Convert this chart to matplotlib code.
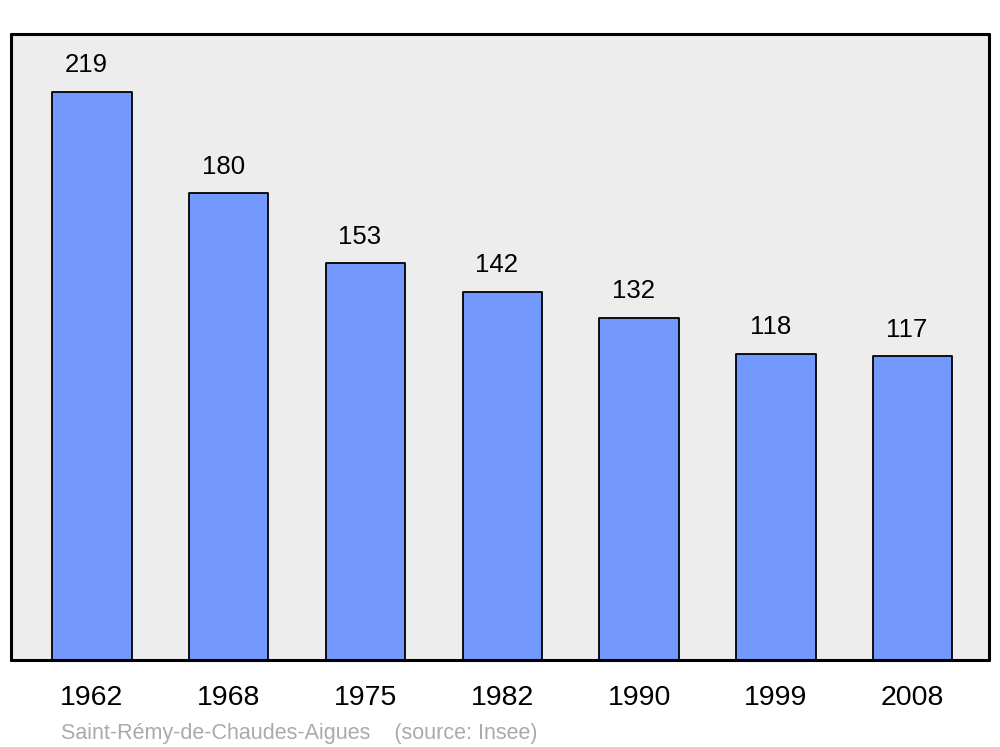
import matplotlib.pyplot as plt

plt.rcParams['font.family'] = ['Liberation Sans', 'DejaVu Sans']

# Data
years = ["1962", "1968", "1975", "1982", "1990", "1999", "2008"]
population = [219, 180, 153, 142, 132, 118, 117]

fig = plt.figure(figsize=(10, 7.47), dpi=100)
ax = fig.add_axes([11 / 1000, 1 - 660 / 747, 978 / 1000, 626 / 747])
ax.set_facecolor("#ededed")

x = range(len(years))
bars = ax.bar(x, population, width=0.58, color="#7399ff", edgecolor="black",
              linewidth=1.3, joinstyle="round")

# Valeurs au-dessus des barres
for xi, val in zip(x, population):
    ax.annotate(str(val), (xi, val), xytext=(-4, 14), textcoords="offset points",
                ha="center", va="baseline", fontsize=18.5)

ax.set_xlim(-0.592, 6.558)
ax.set_ylim(0, 241.3)
ax.set_xticks(list(x))
ax.set_xticklabels(years, fontsize=20.5)
ax.tick_params(axis="x", length=0, pad=18)
ax.set_yticks([])
for s in ax.spines.values():
    s.set_linewidth(2.2)
    s.set_capstyle("round")

fig.text(61 / 1000, 1 - 733 / 747, "Saint-Rémy-de-Chaudes-Aigues    (source: Insee)",
         color="#aaaaaa", fontsize=15.5, va="center", ha="left")

fig.savefig("out.png", dpi=100)
